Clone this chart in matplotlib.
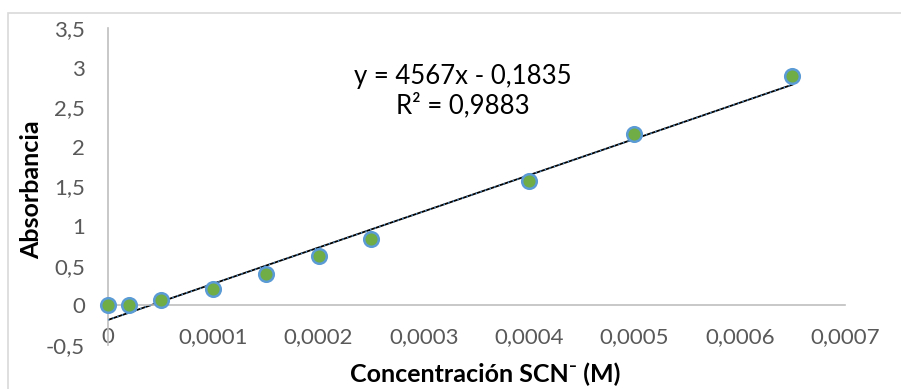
import matplotlib.pyplot as plt
from matplotlib.patches import Rectangle

plt.rcParams['font.family'] = ['Lato', 'DejaVu Sans']

# SCN- concentration (M) and measured absorbance
conc = [0, 0.00002, 0.00005, 0.0001, 0.00015, 0.0002, 0.00025, 0.0004, 0.0005, 0.00065]
absorb = [0.0, 0.01, 0.07, 0.21, 0.40, 0.62, 0.84, 1.57, 2.16, 2.90]

# linear fit reported on the chart
slope = 4567
intercept = -0.1835
r2 = 0.9883

x_ticks = [0, 0.0001, 0.0002, 0.0003, 0.0004, 0.0005, 0.0006, 0.0007]
y_ticks = [-0.5, 0, 0.5, 1, 1.5, 2, 2.5, 3, 3.5]


def comma(v):
    s = f"{v:g}" if abs(v) >= 0.001 or v == 0 else f"{v:.4f}"
    return s.replace('.', ',')


W, H = 901, 389
fig = plt.figure(figsize=(W / 100, H / 100), dpi=100)
ax = fig.add_axes([108 / W, 1 - 345 / H, (845 - 108) / W, (345 - 28) / H])

# chart frame
fig.patches.append(Rectangle((8 / W, -0.1), 1.1, 1 - 13 / H + 0.1,
                             transform=fig.transFigure, fill=False,
                             edgecolor='#d9d9d9', linewidth=1.2))

# trendline
xs = [conc[0], conc[-1]]
ys = [slope * v + intercept for v in xs]
ax.plot(xs, ys, color='black', lw=1.3, zorder=2)
ax.plot(xs, ys, color='#5b9bd5', lw=1.0, ls=(0, (1, 2.5)), zorder=3)

ax.plot(conc, absorb, 'o', ms=10.5, mfc='#70ad47', mec='#5b9bd5', mew=1.8,
        zorder=4, clip_on=False)

ax.set_xlim(0, 0.0007)
ax.set_ylim(-0.5, 3.5)

for s in ['top', 'right']:
    ax.spines[s].set_visible(False)
ax.spines['bottom'].set_position(('data', 0))
for s in ['left', 'bottom']:
    ax.spines[s].set_color('#bfbfbf')
    ax.spines[s].set_linewidth(1.2)

ax.set_xticks(x_ticks)
ax.set_xticklabels([comma(v) for v in x_ticks])
ax.set_yticks(y_ticks)
ax.set_yticklabels([comma(v) for v in y_ticks])
ax.tick_params(axis='both', length=0, labelsize=16, labelcolor='#595959')
ax.tick_params(axis='x', pad=15.5)
ax.tick_params(axis='y', pad=16.5)

fig.text(485 / W, 1 - 374 / H, 'Concentración SCN\u207b (M)', ha='center',
         va='center', fontsize=18, fontweight='bold')
fig.text(32 / W, 1 - 190 / H, 'Absorbancia', ha='center', va='center',
         rotation=90, fontsize=18, fontweight='bold')

eq = f"y = {slope}x - {comma(abs(intercept))}\nR\u00b2 = {comma(r2)}"
fig.text(463 / W, 1 - 91 / H, eq, ha='center', va='center', fontsize=18.5,
         linespacing=1.15)

fig.savefig('out.png', dpi=100)
